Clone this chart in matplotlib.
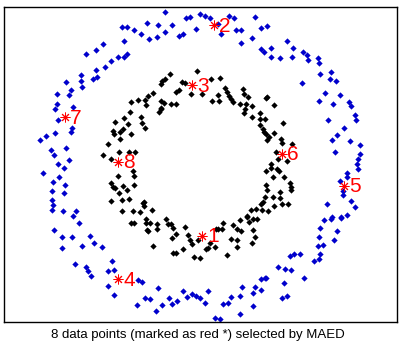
import matplotlib
matplotlib.use("Agg")
import matplotlib.pyplot as plt
import numpy as np

# points (pixel-like units, y grows downward)
outer_pts = [
    (122,27),(127,27),(134,30),(124,41),(103,44),(96,50),(86,54),(118,57),(124,57),(127,54),
    (111,61),(105,67),(96,70),(81,75),(97,77),(93,79),(81,81),(66,82),(71,90),(82,87),
    (57,94),(69,95),(57,104),(73,107),(55,109),
    (165,12),(186,18),(190,17),(200,14),(205,16),(210,18),(229,16),(234,18),(255,17),(147,23),
    (158,25),(172,25),(141,34),(165,32),(149,39),(157,37),(179,36),(183,34),(196,29),(218,24),
    (221,34),(236,30),(241,30),(241,43),(252,38),(261,28),(267,26),(261,49),(264,52),
    (287,41),(271,48),(293,48),(271,57),(280,58),(292,57),(303,52),(307,55),(308,60),(318,58),
    (319,63),(320,74),(331,72),(330,79),(336,81),(302,83),(325,93),(340,95),(319,101),(333,104),
    (349,102),(351,106),
    (58,120),(72,128),(71,132),(55,133),(46,136),(40,140),(51,150),(54,155),(66,148),(69,160),
    (58,164),(64,168),(43,173),(59,177),(53,182),(65,185),(52,191),(64,193),(52,200),(53,205),
    (52,210),(63,211),(76,211),(73,216),
    (355,115),(356,120),(328,120),(344,128),(337,135),(332,140),(350,141),(360,145),(335,152),(360,154),
    (358,159),(357,164),(358,169),(347,173),(347,177),(340,181),(343,191),(343,195),(351,201),(327,204),
    (355,207),(347,215),(341,217),(332,217),
    (79,223),(54,230),(62,237),(72,237),(90,236),(94,243),(82,246),(62,248),(102,247),(112,261),
    (75,264),(86,267),(88,271),(91,276),(108,271),(114,270),(108,286),(114,295),
    (138,280),(142,282),(158,288),(145,298),(150,299),(137,305),(156,311),(162,305),(169,298),(172,304),
    (177,301),(183,291),(187,297),(192,294),(196,296),(200,298),(205,303),(208,291),(215,318),(220,319),
    (223,304),(228,303),(231,297),(240,296),(242,287),(240,314),(253,293),(255,287),(253,306),(261,290),
    (261,279),(265,278),
    (324,220),(331,219),(341,218),(320,228),(337,231),(319,237),(334,240),(318,246),(323,245),(320,254),
    (319,259),(314,261),(290,256),(294,254),(300,254),(278,267),(285,269),(291,270),(266,278),(304,278),
    (284,283),(282,298),(287,296),
]

inner_pts = [
    (131,102),
    (170,74),(197,71),(211,79),(220,78),(165,79),(162,81),(161,84),(182,82),(185,83),(179,90),
    (176,92),(191,94),(202,94),(225,88),(227,92),(229,96),(231,99),(218,95),(219,101),(212,101),
    (243,89),(244,94),(248,97),(233,102),(240,104),(246,104),(252,106),(266,98),(153,93),(148,96),
    (145,100),(138,100),(146,105),(161,101),(164,103),(171,104),(176,104),(161,108),
    (267,97),(274,105),
    (115,122),(124,118),(130,112),(113,131),(114,134),(123,129),(120,132),(128,124),(131,134),(108,144),
    (120,139),(119,152),(103,155),(111,159),(129,152),(133,171),(118,176),(111,183),(113,187),(115,188),
    (123,186),(119,193),(127,190),(111,201),(122,200),(129,199),(122,211),(133,211),
    (141,117),(142,123),(145,128),(159,112),(161,109),(135,152),(134,176),(134,185),(144,202),(144,206),
    (143,203),(152,210),(140,212),(245,109),(244,113),(252,117),(260,113),(260,119),(265,119),(260,125),
    (263,129),(264,132),(266,134),(267,140),(266,171),(266,185),(265,197),(263,202),(261,204),(256,209),
    (251,210),(262,210),(247,216),
    (283,123),(274,133),(269,137),(281,139),(282,143),(292,144),(276,152),(278,159),(287,161),(271,164),
    (271,168),(277,169),(279,171),(284,177),(273,177),(290,183),(291,187),(291,190),(280,192),(273,197),
    (280,198),(282,204),(288,204),(274,206),(268,211),(267,190),
    (131,223),
    (146,219),(146,223),(150,223),(148,231),(147,230),(157,224),(157,229),(166,219),(168,224),(171,224),
    (173,228),(176,234),(172,238),(185,227),(188,235),(190,240),(192,244),(198,240),(210,243),(206,249),
    (208,248),(215,247),(216,229),(218,229),(222,229),(223,223),(233,225),(237,229),(241,231),(240,220),
    (249,222),(253,219),(257,219),(247,217),(253,230),(255,237),(252,243),(231,239),(237,240),(237,247),
    (227,255),(153,246),(183,249),(173,253),(176,253),(194,257),(200,258),(134,223),
]

sel_x = [202, 214, 192, 118, 344, 282, 65, 118]
sel_y = [236, 25, 85, 279, 186, 154, 117, 162]
sel_labels = ['1', '2', '3', '4', '5', '6', '7', '8']

caption = '8 data points (marked as red *) selected by MAED'

outer = np.array(outer_pts)
inner = np.array(inner_pts)

fig = plt.figure(figsize=(4.01, 3.5), dpi=100)
ax = fig.add_axes([4/401, 28/350, 393/401, 315/350])

ax.plot(outer[:, 0], outer[:, 1], 'D', color='#0000cc', ms=3.2, mew=0)
ax.plot(inner[:, 0], inner[:, 1], 'D', color='black', ms=3.2, mew=0)
ax.plot(sel_x, sel_y, marker=(8, 2, 0), ls='none', color='red', ms=7, mew=0.7)
for x, y, s in zip(sel_x, sel_y, sel_labels):
    ax.text(x + 5, y + 1, s, color='red', fontsize=15, family='Liberation Sans',
            va='center', ha='left')

ax.set_xlim(4, 397)
ax.set_ylim(322, 7)
ax.set_xticks([])
ax.set_yticks([])
for sp in ax.spines.values():
    sp.set_linewidth(1)

fig.text(197.5/401, 1 - 335/350, caption, fontsize=9.5, family='Liberation Sans',
         ha='center', va='center')

fig.savefig('out.png', dpi=100)
